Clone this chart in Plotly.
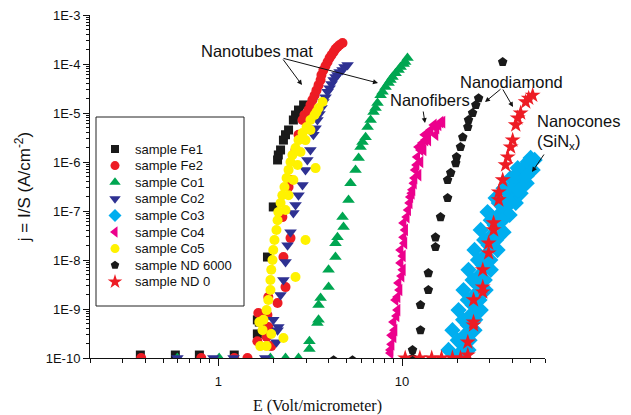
import plotly.graph_objects as go

# ---------------- data (E in V/um, j in A/cm^2) ----------------
fe1_E = [0.376, 0.583, 0.788, 1.22, 1.63, 1.67, 1.63, 1.85, 1.99, 2.10, 2.12, 2.18, 2.26, 2.32, 2.41, 2.56, 2.63, 2.73, 2.91]
fe1_j = [1.15e-10, 1.15e-10, 1.15e-10, 1.15e-10, 3.1e-10, 5.4e-10, 6.0e-10, 1.15e-8, 1.21e-7, 1.1e-6, 1.39e-6, 1.76e-6, 2.8e-6, 3.6e-6, 4.5e-6, 7.2e-6, 9.1e-6, 1.15e-5, 1.46e-5]

fe2_E = [0.380, 0.807, 1.22, 1.44, 1.63, 1.83, 1.94, 1.87, 1.65, 1.85, 1.87, 2.10, 2.32, 2.26, 2.47, 2.23, 2.41, 2.47, 2.63, 2.73,
         2.87, 2.94, 3.09, 3.17, 3.25, 3.34, 3.42, 3.51, 3.60, 3.64, 3.73, 3.83, 3.93, 4.03, 4.13, 4.24, 4.34, 4.45, 4.57, 4.74]
fe2_j = [1e-10, 1e-10, 1e-10, 1e-10, 2.2e-10, 2.7e-10, 1.75e-10, 4.3e-10, 8.3e-10, 7.5e-10, 1.76e-9, 1.33e-9, 2.8e-9, 1.15e-8, 2.8e-8, 7.5e-8, 3.1e-7, 4.3e-7, 1.76e-6, 3.6e-6,
         7.2e-6, 9.1e-6, 1.15e-5, 1.46e-5, 1.84e-5, 2.3e-5, 2.9e-5, 3.7e-5, 4.7e-5, 5.97e-5, 7.5e-5, 9.1e-5, 1.10e-4, 1.33e-4, 1.53e-4, 1.76e-4, 2.02e-4, 2.22e-4, 2.44e-4, 2.68e-4]

co1_E = [0.598, 1.01, 1.92, 2.32, 2.73, 3.13, 3.13, 3.46, 3.51, 3.51, 3.60, 3.98, 3.98, 4.34, 4.34, 4.45, 4.80, 4.74, 5.11, 5.24, 5.58,
         5.80, 5.94, 6.09, 6.33, 6.49, 6.74, 6.99, 7.17, 7.35, 7.64, 7.83, 8.13, 8.44, 8.65, 8.87, 9.22, 9.57, 9.82, 10.2, 10.4, 10.7]
co1_j = [1e-10, 1e-10, 1e-10, 1e-10, 1e-10, 1.53e-10, 2.2e-10, 5.2e-10, 6.0e-10, 1.21e-9, 1.68e-9, 2.8e-9, 6.3e-9, 1.15e-8, 2.2e-8, 2.9e-8, 4.7e-8, 7.5e-8, 1.68e-7, 3.7e-7, 6.9e-7,
         1.21e-6, 2.02e-6, 2.56e-6, 3.2e-6, 5.2e-6, 7.2e-6, 1.05e-5, 1.26e-5, 1.6e-5, 2.3e-5, 2.7e-5, 3.4e-5, 4.1e-5, 4.7e-5, 5.4e-5, 6.5e-5, 7.5e-5, 8.7e-5, 1.0e-4, 1.10e-4, 1.33e-4]

co2_E = [0.598, 0.939, 1.21, 1.80, 2.07, 2.12, 2.10, 1.99, 2.18, 2.26, 2.32, 2.38, 2.47, 2.56, 2.63, 2.73, 2.87, 2.98, 3.05,
         3.17, 3.29, 3.38, 3.46, 3.55, 3.64, 3.73, 3.83, 3.93, 4.03, 4.13, 4.24, 4.34, 4.45, 4.57, 4.74, 4.86, 5.05]
co2_j = [1e-10, 1e-10, 1e-10, 1e-10, 2.1e-10, 4.3e-10, 3.7e-10, 6.0e-10, 1.93e-9, 3.9e-9, 9.1e-9, 2.0e-8, 3.7e-8, 9.1e-8, 1.33e-7, 2.1e-7, 3.4e-7, 6.9e-7, 1.1e-6,
         1.76e-6, 3.6e-6, 4.9e-6, 7.2e-6, 9.5e-6, 1.26e-5, 1.68e-5, 2.1e-5, 2.7e-5, 3.2e-5, 3.9e-5, 4.7e-5, 5.4e-5, 5.97e-5, 6.9e-5, 7.5e-5, 8.7e-5, 9.5e-5]

co3_E = [20.1, 21.4, 21.9, 22.8, 23.6, 24.2, 24.8, 25.8, 26.4, 27.5, 28.5, 29.6, 30.7, 31.9, 33.6, 35.3, 37.1, 39.0, 41.0, 43.1, 44.8, 46.5, 48.3, 50.1,
         17.9, 18.8, 20.3, 21.6, 23.0, 24.8, 26.8, 29.2, 32.3, 35.7, 39.0, 42.6,
         23.0, 24.8, 26.8, 28.5, 30.4, 33.1, 35.7, 38.5, 41.6, 44.2, 47.7, 51.4, 52.7,
         20.1, 21.5, 22.8, 24.2, 25.9, 28.0, 30.4, 33.6, 37.1, 41.0,
         23.3, 25.0, 26.4, 28.2, 30.2, 32.5, 35.3, 39.0, 43.1, 47.7]
co3_j = [1.15e-10, 1.84e-10, 2.9e-10, 4.7e-10, 7.5e-10, 1.21e-9, 1.93e-9, 3.1e-9, 4.9e-9, 7.9e-9, 1.26e-8, 2.0e-8, 3.2e-8, 5.2e-8, 8.3e-8, 1.21e-7, 1.68e-7, 2.3e-7, 3.1e-7, 4.3e-7, 6.0e-7, 7.9e-7, 1.0e-6, 1.21e-6,
         1.46e-10, 3.7e-10, 9.5e-10, 2.44e-9, 6.3e-9, 1.6e-8, 4.1e-8, 9.5e-8, 1.84e-7, 2.9e-7, 4.7e-7, 7.5e-7,
         1.46e-10, 3.7e-10, 9.5e-10, 2.44e-9, 6.3e-9, 1.6e-8, 3.7e-8, 8.3e-8, 1.46e-7, 2.3e-7, 3.7e-7, 6.9e-7, 1.1e-6,
         2.3e-10, 6.0e-10, 1.53e-9, 3.9e-9, 1.0e-8, 2.56e-8, 6.5e-8, 1.46e-7, 2.7e-7, 5.2e-7,
         2.3e-10, 6.0e-10, 1.53e-9, 3.9e-9, 1.0e-8, 2.56e-8, 6.5e-8, 1.46e-7, 2.7e-7, 5.2e-7]

co4_E = [8.65, 8.77, 8.77, 8.65, 8.99, 8.99, 9.45, 9.45, 9.22, 9.57, 10.1, 9.82, 9.82, 10.2, 10.4, 10.2, 10.8, 11.1, 11.4, 11.6, 11.8,
         12.1, 12.3, 12.6, 12.9, 13.4, 13.8, 14.3, 14.9, 15.8, 16.6, 13.9, 15.2, 16.2, 13.1, 12.6, 12.3,
         9.10, 9.33, 9.69, 9.94, 10.1, 10.3, 10.6, 11.0, 11.3, 11.7, 12.0, 13.3, 15.4]
co4_j = [1.26e-10, 1.9e-10, 2.9e-10, 1.46e-10, 2.7e-10, 5.4e-10, 9.5e-10, 1.76e-9, 1.53e-9, 3.4e-9, 6.3e-9, 8.7e-9, 1.6e-8, 2.9e-8, 4.1e-8, 5.7e-8, 1.05e-7, 1.93e-7, 2.7e-7, 3.7e-7, 6.9e-7,
         1.26e-6, 2.02e-6, 1.76e-6, 2.44e-6, 2.8e-6, 3.9e-6, 4.5e-6, 5.7e-6, 5.7e-6, 6.5e-6, 2.8e-6, 3.6e-6, 6.5e-6, 1.76e-6, 1.0e-6, 5.4e-7,
         3.7e-10, 7.2e-10, 2.44e-9, 4.7e-9, 1.21e-8, 2.2e-8, 7.5e-8, 1.46e-7, 2.3e-7, 4.7e-7, 8.7e-7, 3.6e-6, 4.9e-6]

co5_E = [3.69, 3.51, 3.34, 3.17, 3.02, 2.87, 2.73, 2.63, 2.53, 2.47, 2.41, 2.35, 2.29, 2.23, 2.18, 2.12, 2.10, 2.07, 2.02, 1.99, 1.97, 1.94,
         1.92, 1.92, 1.87, 1.83, 1.76, 1.67, 1.74, 1.69, 1.83, 2.98, 2.80, 2.70, 2.56, 2.41, 2.32, 3.17, 3.42, 3.38, 2.98, 2.63, 2.26, 1.94]
co5_j = [1.68e-5, 1.26e-5, 9.1e-6, 7.2e-6, 5.2e-6, 3.9e-6, 2.8e-6, 1.93e-6, 1.39e-6, 1.0e-6, 6.9e-7, 4.7e-7, 3.1e-7, 2.1e-7, 1.46e-7, 9.5e-8, 6.5e-8, 4.1e-8, 2.56e-8, 1.6e-8, 1.0e-8, 6.3e-9,
         3.9e-9, 2.44e-9, 1.53e-9, 9.5e-10, 6.0e-10, 5.4e-10, 3.7e-10, 1.75e-10, 1.75e-10, 2.8e-6, 1.6e-6, 8.7e-7, 4.3e-7, 2.1e-7, 1.05e-7, 4.5e-6, 1.05e-5, 7.5e-7, 2.56e-8, 4.5e-9, 2.56e-10, 3.1e-10]

nd6_E = [35.3, 26.1, 25.2, 24.2, 23.0, 22.8, 21.4, 20.8, 19.8, 19.6, 18.4, 17.7, 17.7, 16.2, 15.2, 15.2, 13.9, 13.9, 12.6, 12.6, 11.4, 11.4, 4.24, 5.37]
nd6_j = [1.10e-4, 2.0e-5, 1.46e-5, 1.0e-5, 7.2e-6, 5.2e-6, 3.2e-6, 2.02e-6, 1.26e-6, 9.5e-7, 6.0e-7, 4.3e-7, 1.84e-7, 7.5e-8, 2.9e-8, 1.84e-8, 5.4e-9, 2.44e-9, 1.21e-9, 3.7e-10, 1.46e-10, 1.0e-10, 9e-11, 9e-11]

nd0_E = [10.4, 12.5, 14.5, 16.4, 18.8, 20.8, 22.8, 22.8, 24.5, 24.5, 24.5, 27.5, 27.5, 27.5, 29.6, 29.6, 31.5, 31.5, 33.6, 33.6, 35.3,
         36.6, 37.6, 39.0, 40.0, 41.6, 42.6, 44.2, 47.1, 48.9, 51.4]
nd0_j = [1e-10, 1e-10, 1e-10, 1e-10, 1e-10, 1e-10, 1.15e-10, 2.1e-10, 4.7e-10, 5.4e-10, 1.53e-9, 2.22e-9, 2.8e-9, 6.3e-9, 1.39e-8, 2.2e-8, 4.1e-8, 5.7e-8, 1.68e-7, 2.44e-7, 4.3e-7,
         8.7e-7, 1.26e-6, 2.02e-6, 2.8e-6, 5.7e-6, 7.9e-6, 1.0e-5, 1.68e-5, 2.0e-5, 2.3e-5]

series_names = ["sample Fe1", "sample Fe2", "sample Co1", "sample Co2", "sample Co3",
                "sample Co4", "sample Co5", "sample ND 6000", "sample ND 0"]
series_E = [fe1_E, fe2_E, co1_E, co2_E, co3_E, co4_E, co5_E, nd6_E, nd0_E]
series_j = [fe1_j, fe2_j, co1_j, co2_j, co3_j, co4_j, co5_j, nd6_j, nd0_j]

y_tick_vals = [1e-10, 1e-9, 1e-8, 1e-7, 1e-6, 1e-5, 1e-4, 1e-3]
y_tick_text = ["1E-10", "1E-9", "1E-8", "1E-7", "1E-6", "1E-5", "1E-4", "1E-3"]
x_tick_vals = [1, 10]
x_tick_text = ["1", "10"]

# ---------------- styles ----------------
symbols = ["square", "circle", "triangle-up", "triangle-down", "diamond",
           "triangle-left", "circle", "pentagon", "star"]
colors = ["#1a1a1a", "#ed1c24", "#00a651", "#2e3192", "#00aeef",
          "#ec008c", "#fff200", "#1a1a1a", "#ed1c24"]
sizes = [9, 10, 11, 11, 12.5, 11, 10, 10, 12]
leg_sizes = [8, 9, 10, 10, 10, 10, 9, 9, 11]

W, H = 631, 415
L, R, T, B = 90, 86, 15, 57
PW, PH = W - L - R, H - T - B

def px(x):
    return (x - L) / PW

def py(y):
    return (H - B - y) / PH

SANS = "Liberation Sans, Arial, sans-serif"
SERIF = "Liberation Serif, Times New Roman, serif"
INK = "#111111"

fig = go.Figure()
for name, E, j, s, c, sz in zip(series_names, series_E, series_j, symbols, colors, sizes):
    fig.add_trace(go.Scatter(x=E, y=j, mode="markers", name=name, showlegend=False,
                             marker=dict(symbol=s, color=c, size=sz, line=dict(width=0))))

# manual legend (compact spacing as in the original)
leg_x_marker = 115
leg_x_text = 133
leg_y0 = 149
leg_dy = 16.6
for i, (name, s, c, sz) in enumerate(zip(series_names, symbols, colors, leg_sizes)):
    yy = py(leg_y0 + i * leg_dy)
    fig.add_trace(go.Scatter(x=[px(leg_x_marker)], y=[yy], xaxis="x2", yaxis="y2", mode="markers",
                             showlegend=False, hoverinfo="skip",
                             marker=dict(symbol=s, color=c, size=sz, line=dict(width=0))))
    fig.add_annotation(x=px(leg_x_text), y=yy, xref="paper", yref="paper", text=name,
                       showarrow=False, xanchor="left", yanchor="middle",
                       font=dict(family=SANS, size=13, color=INK))

fig.add_shape(type="rect", xref="paper", yref="paper", x0=px(96), x1=px(244), y0=py(306), y1=py(117),
              line=dict(color="#222", width=1), fillcolor="rgba(0,0,0,0)")

# labels
lab_font = dict(family=SANS, size=16.5, color=INK)
labels = [("Nanotubes mat", 256.5, 51, "center"), ("Nanofibers", 430, 100, "center"),
          ("Nanodiamond", 511, 82, "center"), ("Nanocones", 535, 121, "left"),
          ("(SiN<sub>x</sub>)", 535, 142, "left")]
for txt, lx, ly, anc in labels:
    fig.add_annotation(x=px(lx), y=py(ly), xref="paper", yref="paper", text=txt,
                       showarrow=False, xanchor=anc, yanchor="middle", font=lab_font)

arrows = [((282, 58), (302, 85)), ((282, 58), (378, 83)), ((423, 110), (425, 123)),
          ((502, 88), (485, 102)), ((502, 88), (513, 107)), ((545, 153), (532, 172))]
for (tx, ty), (hx, hy) in arrows:
    fig.add_annotation(x=px(hx), y=py(hy), xref="paper", yref="paper", text="",
                       showarrow=True, ax=tx - hx, ay=ty - hy, arrowhead=2, arrowsize=1,
                       arrowwidth=1, arrowcolor=INK, standoff=0, startstandoff=0)

x_minor = [k * 10 ** e for e in (-1, 0, 1) for k in range(2, 10) if 0.2 <= k * 10 ** e <= 60]
y_minor = [k * 10.0 ** e for e in range(-10, -3) for k in range(2, 10)]

fig.update_layout(
    template="none",
    width=W, height=H, autosize=False,
    margin=dict(l=L, r=R, t=T, b=B, pad=0),
    paper_bgcolor="white", plot_bgcolor="white",
    showlegend=False,
    font=dict(family=SANS, color=INK),
    xaxis=dict(type="log", range=[-0.69897, 1.778151], showline=True, linecolor=INK, linewidth=1,
               automargin=False,
               ticks="outside", ticklen=7, tickwidth=1, tickcolor=INK,
               tickmode="array", tickvals=x_tick_vals, ticktext=x_tick_text,
               ticklabelstandoff=4,
               minor=dict(ticks="outside", ticklen=4, tickwidth=1, tickcolor=INK,
                          tickmode="array", tickvals=x_minor, showgrid=False),
               showgrid=False, zeroline=False,
               tickfont=dict(family=SANS, size=13, color=INK),
               title=dict(text="E (Volt/micrometer)", font=dict(family=SERIF, size=16, color=INK),
                          standoff=14)),
    yaxis=dict(type="log", range=[-10, -3], showline=True, linecolor=INK, linewidth=1,
               automargin=False,
               ticks="outside", ticklen=6, tickwidth=1, tickcolor=INK,
               tickmode="array", tickvals=y_tick_vals, ticktext=y_tick_text,
               minor=dict(ticks="outside", ticklen=3, tickwidth=1, tickcolor=INK,
                          tickmode="array", tickvals=y_minor, showgrid=False),
               showgrid=False, zeroline=False,
               tickfont=dict(family=SANS, size=13, color=INK),
               title=dict(text="j = I/S (A/cm<sup>-2</sup>)", font=dict(family=SANS, size=17, color=INK),
                          standoff=10)),
    xaxis2=dict(overlaying="x", range=[0, 1], visible=False, anchor="y2"),
    yaxis2=dict(overlaying="y", range=[0, 1], visible=False, anchor="x2"),
)

fig.write_html("out.html")
